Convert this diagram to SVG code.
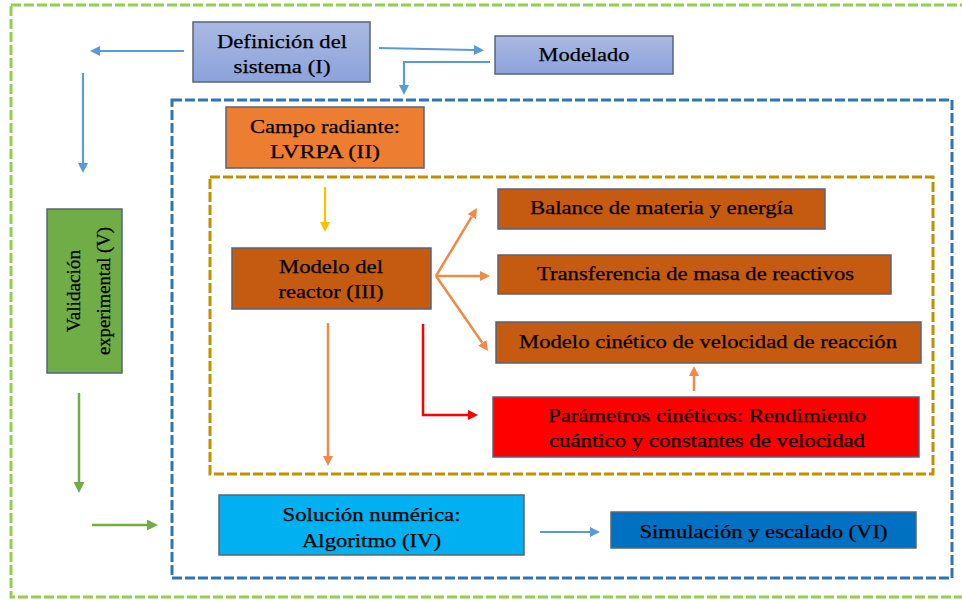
<svg xmlns="http://www.w3.org/2000/svg" width="962" height="600" viewBox="0 0 962 600">
<style>
  .box { stroke: #5A6478; stroke-width: 1.5; }
  .t { font-family: "Liberation Serif", "Times New Roman", serif; font-size: 19px; fill: #000; text-anchor: middle; stroke: #000; stroke-width: 0.25; }
  .frame { fill: none; stroke-width: 3; stroke-dasharray: 10 3; }
  .blueA { fill: none; stroke: #5B9BD5; stroke-width: 2.2; }
  .orA { fill: none; stroke: #F08A48; stroke-width: 2.5; }
  .grA { fill: none; stroke: #70AD47; stroke-width: 2.5; }
  .yeA { fill: none; stroke: #FFC000; stroke-width: 2.2; }
  .rdA { fill: none; stroke: #FF0000; stroke-width: 2.5; }
</style>
<defs>
  <linearGradient id="gBlue" x1="0" y1="0" x2="0" y2="1">
    <stop offset="0" stop-color="#AAB9E2"/>
    <stop offset="1" stop-color="#8CA2DA"/>
  </linearGradient>
  <marker id="mBlue" viewBox="0 0 10 10" refX="0" refY="5" markerWidth="10" markerHeight="10" markerUnits="userSpaceOnUse" orient="auto">
    <path d="M0,0 L10,5 L0,10 z" fill="#5B9BD5"/>
  </marker>
  <marker id="mOr" viewBox="0 0 10 10" refX="0" refY="5" markerWidth="10" markerHeight="10" markerUnits="userSpaceOnUse" orient="auto">
    <path d="M0,0 L10,5 L0,10 z" fill="#F08A48"/>
  </marker>
  <marker id="mGr" viewBox="0 0 10 10" refX="0" refY="5" markerWidth="11" markerHeight="11" markerUnits="userSpaceOnUse" orient="auto">
    <path d="M0,0 L10,5 L0,10 z" fill="#70AD47"/>
  </marker>
  <marker id="mYe" viewBox="0 0 10 10" refX="0" refY="5" markerWidth="10" markerHeight="10" markerUnits="userSpaceOnUse" orient="auto">
    <path d="M0,0 L10,5 L0,10 z" fill="#FFC000"/>
  </marker>
  <marker id="mRd" viewBox="0 0 10 10" refX="0" refY="5" markerWidth="10" markerHeight="10" markerUnits="userSpaceOnUse" orient="auto">
    <path d="M0,0 L10,5 L0,10 z" fill="#FF0000"/>
  </marker>
</defs>
<rect width="962" height="600" fill="#FFFFFF"/>

<g id="frames">
  <rect class="frame" x="11" y="5" width="980" height="592" stroke="#92D050"/>
  <rect class="frame" x="172" y="100" width="780" height="478" stroke="#2E75B6"/>
  <rect class="frame" x="210" y="177" width="723" height="297" stroke="#BF9000"/>
</g>

<g id="connectors">
  <line class="blueA" x1="184" y1="51" x2="100" y2="51" marker-end="url(#mBlue)"/>
  <line class="blueA" x1="83" y1="73" x2="83" y2="163" marker-end="url(#mBlue)"/>
  <line class="blueA" x1="379" y1="48" x2="474" y2="50" marker-end="url(#mBlue)"/>
  <polyline class="blueA" points="490,62 404,62 404,85" marker-end="url(#mBlue)"/>
  <line class="yeA" x1="325" y1="187" x2="325" y2="222" marker-end="url(#mYe)"/>
  <line class="orA" x1="436" y1="276" x2="471.8" y2="216.6" marker-end="url(#mOr)"/>
  <line class="orA" x1="436" y1="276" x2="480" y2="276" marker-end="url(#mOr)"/>
  <line class="orA" x1="436" y1="276" x2="482.3" y2="342.8" marker-end="url(#mOr)"/>
  <polyline class="rdA" points="423,324 423,415 468,415" marker-end="url(#mRd)"/>
  <line class="orA" x1="694" y1="391" x2="694" y2="376" marker-end="url(#mOr)"/>
  <line class="orA" x1="328" y1="323" x2="328" y2="456" marker-end="url(#mOr)"/>
  <line class="grA" x1="79" y1="393" x2="79" y2="482" marker-end="url(#mGr)"/>
  <line class="grA" x1="92" y1="525" x2="147" y2="525" marker-end="url(#mGr)"/>
  <line class="blueA" x1="540" y1="532" x2="590" y2="532" marker-end="url(#mBlue)"/>
</g>

<g id="n-definicion">
  <rect class="box" x="193" y="22" width="177" height="60" fill="url(#gBlue)"/>
  <text class="t" x="282" y="48" textLength="130" lengthAdjust="spacingAndGlyphs">Definición del</text>
  <text class="t" x="282" y="73" textLength="97" lengthAdjust="spacingAndGlyphs">sistema (I)</text>
</g>

<g id="n-modelado">
  <rect class="box" x="495" y="36" width="178" height="38" fill="url(#gBlue)"/>
  <text class="t" x="584" y="61" textLength="91" lengthAdjust="spacingAndGlyphs">Modelado</text>
</g>

<g id="n-campo">
  <rect class="box" x="226" y="107" width="198" height="61" fill="#ED7D31"/>
  <text class="t" x="325" y="133" textLength="150" lengthAdjust="spacingAndGlyphs">Campo radiante:</text>
  <text class="t" x="325" y="158" textLength="110" lengthAdjust="spacingAndGlyphs">LVRPA (II)</text>
</g>

<g id="n-reactor">
  <rect class="box" x="232" y="248" width="199" height="61" fill="#C55A11"/>
  <text class="t" x="331" y="273" textLength="104" lengthAdjust="spacingAndGlyphs">Modelo del</text>
  <text class="t" x="331" y="298" textLength="105" lengthAdjust="spacingAndGlyphs">reactor (III)</text>
</g>

<g id="n-validacion">
  <rect class="box" x="47" y="209" width="75" height="164" fill="#70AD47"/>
  <g transform="rotate(-90 84.5 291)">
    <text class="t" x="84.5" y="286.5" textLength="82" lengthAdjust="spacingAndGlyphs">Validación</text>
    <text class="t" x="84.5" y="316.5" textLength="128" lengthAdjust="spacingAndGlyphs">experimental (V)</text>
  </g>
</g>

<g id="n-balance">
  <rect class="box" x="498" y="189" width="327" height="40" fill="#C55A11"/>
  <text class="t" x="661.5" y="214" textLength="263" lengthAdjust="spacingAndGlyphs">Balance de materia y energía</text>
</g>

<g id="n-transferencia">
  <rect class="box" x="498" y="255" width="393" height="39" fill="#C55A11"/>
  <text class="t" x="695.5" y="280" textLength="317" lengthAdjust="spacingAndGlyphs">Transferencia de masa de reactivos</text>
</g>

<g id="n-cinetico">
  <rect class="box" x="496" y="322" width="425" height="41" fill="#C55A11"/>
  <text class="t" x="708" y="348" textLength="378" lengthAdjust="spacingAndGlyphs">Modelo cinético de velocidad de reacción</text>
</g>

<g id="n-parametros">
  <rect class="box" x="493" y="397" width="426" height="60" fill="#FF0000"/>
  <text class="t" x="707" y="422" textLength="318" lengthAdjust="spacingAndGlyphs">Parámetros cinéticos: Rendimiento</text>
  <text class="t" x="707" y="447" textLength="316" lengthAdjust="spacingAndGlyphs">cuántico y constantes de velocidad</text>
</g>

<g id="n-solucion">
  <rect class="box" x="219" y="495" width="305" height="60" fill="#00B0F0"/>
  <text class="t" x="371.5" y="521" textLength="178" lengthAdjust="spacingAndGlyphs">Solución numérica:</text>
  <text class="t" x="371.5" y="547" textLength="139" lengthAdjust="spacingAndGlyphs">Algoritmo (IV)</text>
</g>

<g id="n-simulacion">
  <rect class="box" x="611" y="512" width="305" height="36" fill="#0070C0"/>
  <text class="t" x="763.5" y="538" textLength="248" lengthAdjust="spacingAndGlyphs">Simulación y escalado (VI)</text>
</g>
</svg>
